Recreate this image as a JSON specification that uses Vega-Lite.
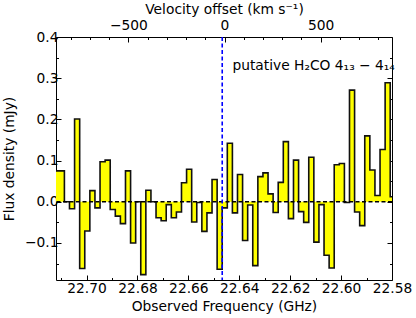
{
  "$schema": "https://vega.github.io/schema/vega-lite/v6.json",
  "width": 336,
  "height": 243,
  "autosize": {"type": "none"},
  "padding": {"left": 56, "top": 37, "right": 24, "bottom": 38},
  "config": {
    "font": "DejaVu Sans",
    "view": {"stroke": "black", "strokeWidth": 1},
    "axis": {
      "domain": false,
      "grid": false,
      "tickCount": 100,
      "tickColor": "black",
      "tickWidth": 1,
      "labelColor": "black",
      "labelFont": "DejaVu Sans",
      "labelFontSize": 13.8,
      "labelOverlap": false,
      "labelFlush": false,
      "titleColor": "black",
      "titleFont": "DejaVu Sans",
      "titleFontSize": 13.8,
      "titleFontWeight": "normal"
    }
  },
  "datasets": {
    "spec": [
      {"freq": 22.7127, "flux": 0.075},
      {"freq": 22.7107, "flux": 0.075},
      {"freq": 22.7087, "flux": 0.0},
      {"freq": 22.7067, "flux": -0.017},
      {"freq": 22.7047, "flux": 0.201},
      {"freq": 22.7027, "flux": -0.162},
      {"freq": 22.7007, "flux": -0.071},
      {"freq": 22.6987, "flux": 0.027},
      {"freq": 22.6967, "flux": -0.015},
      {"freq": 22.6947, "flux": 0.097},
      {"freq": 22.6927, "flux": 0.101},
      {"freq": 22.6907, "flux": -0.019},
      {"freq": 22.6887, "flux": -0.035},
      {"freq": 22.6867, "flux": -0.053},
      {"freq": 22.6847, "flux": 0.075},
      {"freq": 22.6827, "flux": -0.100},
      {"freq": 22.6807, "flux": 0.0},
      {"freq": 22.6787, "flux": -0.177},
      {"freq": 22.6767, "flux": 0.028},
      {"freq": 22.6747, "flux": 0.0},
      {"freq": 22.6727, "flux": -0.039},
      {"freq": 22.6707, "flux": -0.046},
      {"freq": 22.6687, "flux": -0.007},
      {"freq": 22.6667, "flux": -0.039},
      {"freq": 22.6647, "flux": -0.025},
      {"freq": 22.6627, "flux": 0.046},
      {"freq": 22.6607, "flux": 0.079},
      {"freq": 22.6587, "flux": -0.049},
      {"freq": 22.6567, "flux": -0.002},
      {"freq": 22.6547, "flux": -0.072},
      {"freq": 22.6527, "flux": -0.027},
      {"freq": 22.6507, "flux": 0.054},
      {"freq": 22.6487, "flux": -0.164},
      {"freq": 22.6467, "flux": -0.015},
      {"freq": 22.6447, "flux": 0.142},
      {"freq": 22.6427, "flux": -0.027},
      {"freq": 22.6407, "flux": 0.066},
      {"freq": 22.6387, "flux": -0.094},
      {"freq": 22.6367, "flux": -0.008},
      {"freq": 22.6347, "flux": -0.155},
      {"freq": 22.6327, "flux": 0.061},
      {"freq": 22.6307, "flux": 0.070},
      {"freq": 22.6287, "flux": 0.019},
      {"freq": 22.6267, "flux": -0.026},
      {"freq": 22.6247, "flux": 0.047},
      {"freq": 22.6227, "flux": 0.146},
      {"freq": 22.6207, "flux": -0.041},
      {"freq": 22.6187, "flux": 0.101},
      {"freq": 22.6167, "flux": -0.024},
      {"freq": 22.6147, "flux": -0.050},
      {"freq": 22.6127, "flux": 0.108},
      {"freq": 22.6107, "flux": -0.098},
      {"freq": 22.6087, "flux": -0.007},
      {"freq": 22.6067, "flux": -0.130},
      {"freq": 22.6047, "flux": -0.161},
      {"freq": 22.6027, "flux": 0.090},
      {"freq": 22.6007, "flux": 0.093},
      {"freq": 22.5987, "flux": -0.002},
      {"freq": 22.5967, "flux": 0.271},
      {"freq": 22.5947, "flux": -0.025},
      {"freq": 22.5927, "flux": -0.058},
      {"freq": 22.5907, "flux": 0.160},
      {"freq": 22.5887, "flux": 0.077},
      {"freq": 22.5867, "flux": 0.015},
      {"freq": 22.5847, "flux": 0.127},
      {"freq": 22.5827, "flux": 0.289},
      {"freq": 22.5807, "flux": 0.012},
      {"freq": 22.5787, "flux": 0.012}
    ],
    "zero": [{"flux": 0}],
    "marker": [{"freq": 22.6467}],
    "annot": [{"freq": 22.6427, "flux": 0.32, "label": "putative H₂CO 4₁₃ − 4₁₄"}],
    "vel": [{"velocity": -876.4, "flux": 0}, {"velocity": 871.1, "flux": 0}]
  },
  "layer": [
    {
      "layer": [
        {
          "data": {"name": "spec"},
          "mark": {"type": "area", "interpolate": "step-after", "color": "#ffff00", "opacity": 1, "clip": true},
          "encoding": {
            "x": {
              "field": "freq", "type": "quantitative",
              "scale": {"domain": [22.58, 22.712], "reverse": true, "nice": false, "zero": false},
              "axis": {
                "orient": "bottom",
                "title": "Observed Frequency (GHz)",
                "tickCount": 100,
                "values": [22.58, 22.59, 22.6, 22.61, 22.62, 22.63, 22.64, 22.65, 22.66, 22.67, 22.68, 22.69, 22.7, 22.71],
                "labelExpr": "round(datum.value*100) % 2 == 0 ? format(datum.value, '.2f') : ''",
                "tickSize": {"condition": {"test": "round(datum.value*100) % 2 == 0", "value": -5}, "value": -2.5},
                "labelPadding": 6,
                "titlePadding": 2
              }
            },
            "y": {
              "field": "flux", "type": "quantitative", "stack": null,
              "scale": {"domain": [-0.19, 0.4], "nice": false, "zero": false},
              "axis": {
                "orient": "left",
                "title": "Flux density (mJy)",
                "tickCount": 100,
                "values": [-0.15, -0.1, -0.05, 0, 0.05, 0.1, 0.15, 0.2, 0.25, 0.3, 0.35, 0.4],
                "labelExpr": "abs(datum.value*20 - 2*round(datum.value*10)) < 0.01 ? format(datum.value, '.1f') : ''",
                "tickSize": {"condition": {"test": "abs(datum.value*20 - 2*round(datum.value*10)) < 0.01", "value": -5}, "value": -2.5},
                "labelPadding": 3,
                "titlePadding": 8
              }
            }
          }
        },
        {
          "data": {"name": "spec"},
          "mark": {"type": "line", "interpolate": "step-after", "color": "#111111", "strokeWidth": 1.6, "clip": true},
          "encoding": {
            "x": {"field": "freq", "type": "quantitative"},
            "y": {"field": "flux", "type": "quantitative"}
          }
        },
        {
          "data": {"name": "zero"},
          "mark": {"type": "rule", "color": "black", "strokeDash": [4, 2.5], "strokeWidth": 1.6},
          "encoding": {"y": {"field": "flux", "type": "quantitative"}}
        },
        {
          "data": {"name": "marker"},
          "mark": {"type": "rule", "color": "#0000ff", "strokeDash": [4, 2.5], "strokeWidth": 1.6},
          "encoding": {"x": {"field": "freq", "type": "quantitative"}}
        },
        {
          "data": {"name": "annot"},
          "mark": {"type": "text", "align": "left", "baseline": "alphabetic", "fontSize": 13.8, "color": "black"},
          "encoding": {
            "x": {"field": "freq", "type": "quantitative"},
            "y": {"field": "flux", "type": "quantitative"},
            "text": {"field": "label"}
          }
        }
      ]
    },
    {
      "data": {"name": "vel"},
      "mark": {"type": "point", "opacity": 0},
      "encoding": {
        "x": {
          "field": "velocity", "type": "quantitative",
          "scale": {"domain": [-876.4, 871.1], "nice": false, "zero": false},
          "axis": {
            "orient": "top",
            "title": "Velocity offset (km s⁻¹)",
            "tickCount": 100,
            "values": [-800, -700, -600, -500, -400, -300, -200, -100, 0, 100, 200, 300, 400, 500, 600, 700, 800],
            "labelExpr": "datum.value % 500 == 0 ? format(datum.value, 'd') : ''",
            "tickSize": {"condition": {"test": "datum.value % 500 == 0", "value": -5}, "value": -2.5},
            "labelPadding": 10,
            "titlePadding": -1
          }
        },
        "y": {
          "field": "flux", "type": "quantitative",
          "scale": {"domain": [-0.19, 0.4], "nice": false, "zero": false},
          "axis": {
            "orient": "right",
            "title": null,
            "labels": false,
            "tickCount": 100,
            "values": [-0.15, -0.1, -0.05, 0, 0.05, 0.1, 0.15, 0.2, 0.25, 0.3, 0.35, 0.4],
            "tickSize": {"condition": {"test": "abs(datum.value*20 - 2*round(datum.value*10)) < 0.01", "value": -5}, "value": -2.5}
          }
        }
      }
    }
  ],
  "resolve": {"scale": {"x": "independent"}, "axis": {"x": "independent", "y": "independent"}}
}
